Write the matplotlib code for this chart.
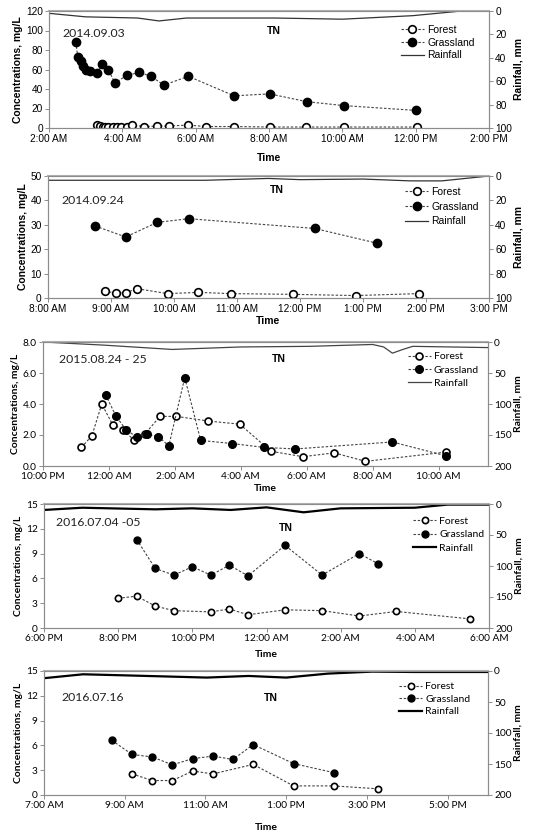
import numpy as np
import pandas as pd
import matplotlib
matplotlib.use('Agg')
from matplotlib import pyplot as plt
import matplotlib.dates as mdates

# ---- 2014.09.03 ----
p1_forest_t = ['03:19', '03:23', '03:28', '03:31', '03:37', '03:44', '03:51', '03:58', '04:08', '04:16',
               '04:36', '04:57', '05:16', '05:47', '06:17', '07:03', '08:02', '09:01', '10:02', '12:02']
p1_forest = [3, 2, 1.5, 1, 1, 1.5, 1.5, 1.5, 1.5, 3, 1.5, 2, 2, 3, 1.5, 1.5, 1, 1, 1, 1]
p1_grass_t = ['02:44', '02:47', '02:52', '02:56', '03:00', '03:07', '03:19', '03:27', '03:37', '03:48',
              '04:07', '04:28', '04:47', '05:08', '05:48', '07:03', '08:01', '09:02', '10:02', '12:01']
p1_grass = [88, 73, 69, 64, 59, 58, 56, 66, 60, 46, 54, 57, 53, 44, 53, 33, 35, 27, 23, 18]
p1_rain_t = ['02:00', '03:00', '04:25', '05:00', '05:45', '07:15', '08:10', '10:00', '11:55', '13:15', '14:00']
p1_rain = [2, 5, 6, 8.5, 6, 6, 6, 7, 4, 0, 0]

# ---- 2014.09.24 ----
p2_forest_t = ['08:54', '09:05', '09:14', '09:25', '09:54', '10:23', '10:54', '11:53', '12:53', '13:53']
p2_forest = [2.8, 2, 2.2, 3.8, 1.8, 2.3, 1.8, 1.5, 1, 1.8]
p2_grass_t = ['08:45', '09:14', '09:44', '10:14', '12:14', '13:13']
p2_grass = [29.5, 25, 31, 32.5, 28.5, 22.5]
p2_rain_t = ['08:00', '10:30', '11:30', '12:00', '13:00', '13:45', '14:15', '15:00']
p2_rain = [3.5, 3.5, 2, 3, 2.5, 4, 4, 0]

# ---- 2015.08.24 - 25 ----
p3_forest_t = ['23:10', '23:29', '23:47', '00:07', '00:26', '00:46', '01:05', '01:33', '02:03', '03:01',
               '03:58', '04:55', '05:53', '06:50', '07:47', '10:14']
p3_forest = [1.2, 1.95, 4.0, 2.65, 2.35, 1.65, 2.05, 3.2, 3.2, 2.9, 2.7, 0.95, 0.6, 0.85, 0.3, 0.9]
p3_grass_t = ['23:54', '00:13', '00:31', '00:51', '01:10', '01:30', '01:49', '02:18', '02:47', '03:44',
              '04:42', '05:39', '08:36', '10:14']
p3_grass = [4.6, 3.2, 2.35, 1.85, 2.05, 1.9, 1.3, 5.7, 1.65, 1.45, 1.2, 1.1, 1.55, 0.65]
p3_rain_t = ['22:00', '23:50', '01:55', '04:00', '06:05', '08:00', '08:20', '08:36', '08:55', '09:13', '11:30']
p3_rain = [0, 5, 12, 8, 7, 4, 8, 18, 12, 7, 9]

# ---- 2016.07.04 -05 ----
p4_forest_t = ['20:00', '20:30', '21:00', '21:30', '22:30', '23:00', '23:30', '00:30', '01:30', '02:30',
               '03:30', '05:30']
p4_forest = [3.6, 3.85, 2.65, 2.1, 1.95, 2.3, 1.6, 2.2, 2.1, 1.45, 2.0, 1.1]
p4_grass_t = ['20:30', '21:00', '21:30', '22:00', '22:30', '23:00', '23:30', '00:30', '01:30', '02:30', '03:00']
p4_grass = [10.7, 7.2, 6.4, 7.4, 6.4, 7.6, 6.3, 10.0, 6.4, 9.0, 7.8]
p4_rain_t = ['18:00', '19:02', '21:00', '22:00', '23:02', '00:00', '01:00', '02:00', '04:00', '04:53', '06:00']
p4_rain = [9.6, 6, 8.6, 7, 9.6, 5.4, 13.4, 7, 6, 1, 1]

# ---- 2016.07.16 ----
p5_forest_t = ['09:11', '09:41', '10:11', '10:41', '11:11', '12:11', '13:11', '14:11', '15:16']
p5_forest = [2.55, 1.75, 1.75, 2.9, 2.55, 3.7, 1.1, 1.1, 0.75]
p5_grass_t = ['08:41', '09:11', '09:41', '10:11', '10:41', '11:11', '11:41', '12:11', '13:11', '14:11']
p5_grass = [6.6, 4.9, 4.6, 3.65, 4.4, 4.7, 4.3, 6.1, 3.8, 2.7]
p5_rain_t = ['07:00', '07:58', '08:59', '11:02', '12:04', '13:00', '14:02', '15:08', '16:10', '18:00']
p5_rain = [11.6, 5.3, 7, 10.6, 8, 10.6, 4.2, 1, 1.6, 1.6]


def to_dt(day, start_hour, times):
    # times after midnight roll to the next day
    out = []
    for t in times:
        d = pd.Timestamp(f'{day} {t}')
        if d.hour < start_hour:
            d += pd.Timedelta(days=1)
        out.append(d)
    return out


arial = ['Liberation Sans', 'DejaVu Sans']
calib = ['Lato', 'DejaVu Sans']

panels = [
    dict(day='2014-09-03', start=2, span=12, step=2, ymax=120, ystep=20, yfmt='%d', rmax=100, rstep=20,
         f=(p1_forest_t, p1_forest), g=(p1_grass_t, p1_grass), r=(p1_rain_t, p1_rain),
         label='2014.09.03', lpos=(0.03, 0.81), tn=(0.51, 0.83), leg=(0.80, 0.88), lsp=0.25,
         rect=[49, 11, 489, 128], fam=arial, rlw=0.9, rc='#333333', ms=5.5, tpad=6),
    dict(day='2014-09-24', start=8, span=7, step=1, ymax=50, ystep=10, yfmt='%d', rmax=100, rstep=20,
         f=(p2_forest_t, p2_forest), g=(p2_grass_t, p2_grass), r=(p2_rain_t, p2_rain),
         label='2014.09.24', lpos=(0.03, 0.80), tn=(0.52, 0.885), leg=(0.81, 0.91), lsp=0.45,
         rect=[48, 176, 489, 298], fam=arial, rlw=0.9, rc='#333333', ms=5.5, tpad=1),
    dict(day='2015-08-24', start=22, span=13.5, step=2, ymax=8, ystep=2, yfmt='%.1f', rmax=200, rstep=50,
         f=(p3_forest_t, p3_forest), g=(p3_grass_t, p3_grass), r=(p3_rain_t, p3_rain),
         label='2015.08.24 - 25', lpos=(0.035, 0.86), tn=(0.53, 0.86), leg=(0.82, 0.92), lsp=0.4,
         rect=[43, 342, 488, 466], fam=calib, rlw=0.9, rc='#444444', ms=5, tpad=2),
    dict(day='2016-07-04', start=18, span=12, step=2, ymax=15, ystep=3, yfmt='%d', rmax=200, rstep=50,
         f=(p4_forest_t, p4_forest), g=(p4_grass_t, p4_grass), r=(p4_rain_t, p4_rain),
         label='2016.07.04 -05', lpos=(0.028, 0.85), tn=(0.544, 0.81), leg=(0.83, 0.90), lsp=0.4,
         rect=[44, 504, 489, 628], fam=calib, rlw=1.6, rc='black', ms=4.5, tpad=5),
    dict(day='2016-07-16', start=7, span=11, step=2, ymax=15, ystep=3, yfmt='%d', rmax=200, rstep=50,
         f=(p5_forest_t, p5_forest), g=(p5_grass_t, p5_grass), r=(p5_rain_t, p5_rain),
         label='2016.07.16', lpos=(0.04, 0.79), tn=(0.51, 0.78), leg=(0.80, 0.91), lsp=0.3,
         rect=[44, 671, 488, 795], fam=calib, rlw=1.6, rc='black', ms=4.5, tpad=9),
]

W, H = 537, 836
fig = plt.figure(figsize=(W / 100, H / 100), dpi=100)
spine_c = '#8c8c8c'

for p in panels:
    x0, y0, x1, y1 = p['rect']
    ax = fig.add_axes([x0 / W, (H - y1) / H, (x1 - x0) / W, (y1 - y0) / H])
    ax2 = ax.twinx()
    fam = p['fam']

    ft = to_dt(p['day'], p['start'], p['f'][0])
    gt = to_dt(p['day'], p['start'], p['g'][0])
    rt = to_dt(p['day'], p['start'], p['r'][0])

    dash = (0, (2.2, 1.6))
    lf, = ax.plot(ft, p['f'][1], linestyle=dash, color='#444444', lw=0.8, marker='o',
                  mfc='white', mec='black', mew=1.2, ms=p['ms'], label='Forest')
    lg, = ax.plot(gt, p['g'][1], linestyle=dash, color='#444444', lw=0.8, marker='o',
                  mfc='black', mec='black', ms=p['ms'] + 0.5, label='Grassland')
    lr, = ax2.plot(rt, p['r'][1], color=p['rc'], lw=p['rlw'], label='Rainfall')

    t0 = pd.Timestamp(p['day']) + pd.Timedelta(hours=p['start'])
    t1 = t0 + pd.Timedelta(hours=p['span'])
    ax.set_xlim(t0, t1)
    ax.set_ylim(0, p['ymax'])
    ax.set_yticks(np.arange(0, p['ymax'] + 0.01, p['ystep']))
    ax.yaxis.set_major_formatter(matplotlib.ticker.FormatStrFormatter(p['yfmt']))
    ticks = pd.date_range(t0, t0 + pd.Timedelta(hours=int(p['span'])), freq=f"{p['step']}h")
    ax.set_xticks(ticks)
    ax.xaxis.set_major_formatter(mdates.DateFormatter('%-I:%M %p'))

    ax2.set_ylim(p['rmax'], 0)
    ax2.set_yticks(np.arange(0, p['rmax'] + 1, p['rstep']))

    for a in (ax, ax2):
        for s in a.spines.values():
            s.set_color(spine_c)
            s.set_linewidth(0.8)
        a.tick_params(direction='out', length=3, width=0.7, color=spine_c, pad=1.5, labelsize=7.3)
        for lab in a.get_xticklabels() + a.get_yticklabels():
            lab.set_family(fam)
    ax.spines['top'].set_color('#b0b0b0')
    ax.spines['top'].set_linewidth(1.5)

    ax.set_ylabel('Concentrations, mg/L', fontsize=7.5, fontweight='bold', family=fam, labelpad=2)
    ax2.set_ylabel('Rainfall, mm', fontsize=7.5, fontweight='bold', family=fam, labelpad=1)
    ax.set_xlabel('Time', fontsize=7.5, fontweight='bold', family=fam, labelpad=p['tpad'])

    ax.text(p['lpos'][0], p['lpos'][1], p['label'], transform=ax.transAxes, fontsize=8.8,
            family=calib, va='center', ha='left', color='#222222')
    ax.text(p['tn'][0], p['tn'][1], 'TN', transform=ax.transAxes, fontsize=7.5,
            fontweight='bold', family=arial, va='center', ha='center')

    ax2.legend([lf, lg, lr], ['Forest', 'Grassland', 'Rainfall'], loc='upper left',
               bbox_to_anchor=p['leg'], frameon=False, handlelength=2.2, handletextpad=0.3,
               labelspacing=p['lsp'], borderpad=0, borderaxespad=0,
               prop={'family': fam, 'size': 7.5})

plt.savefig('out.png', dpi=100)
